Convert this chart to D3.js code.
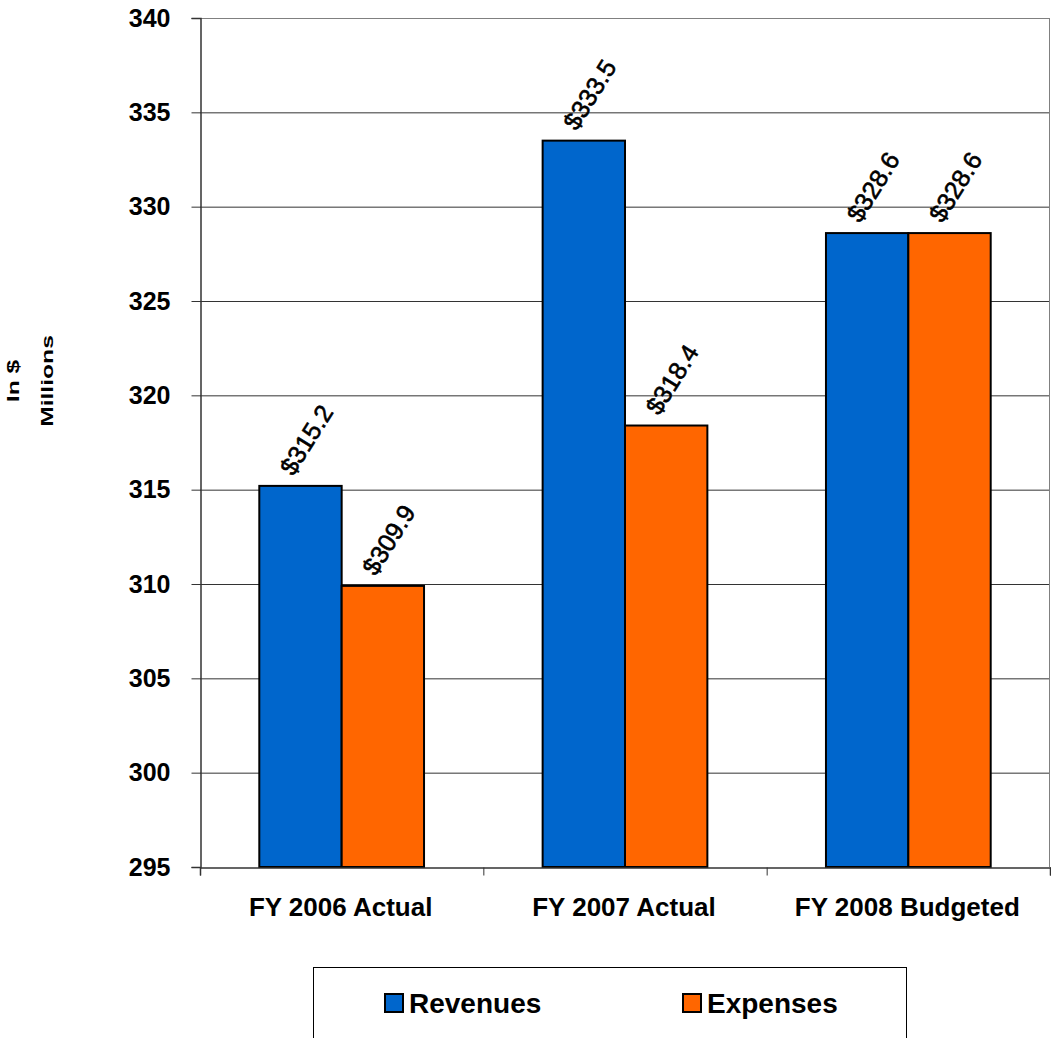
<!DOCTYPE html>
<html>
<head>
<meta charset="utf-8">
<script src="https://cdn.jsdelivr.net/npm/d3@7"></script>
<style>
  body { margin: 0; background: #fff; }
  text { font-family: "Liberation Sans", Arial, sans-serif; }
</style>
</head>
<body>
<svg id="chart"></svg>
<script>
const categories = ["FY 2006 Actual", "FY 2007 Actual", "FY 2008 Budgeted"];
const seriesNames = ["Revenues", "Expenses"];
const revenues = [315.2, 333.5, 328.6];
const expenses = [309.9, 318.4, 328.6];
const yTicks = [295, 300, 305, 310, 315, 320, 325, 330, 335, 340];

const colors = { Revenues: "#0066CC", Expenses: "#FF6600" };
const width = 1051;
const height = 1038;
const plot = { left: 200, right: 1050, top: 18, bottom: 867 };

const svg = d3.select("#chart").attr("width", width).attr("height", height);

const rows = categories.map((c, i) => ({
  category: c,
  Revenues: revenues[i],
  Expenses: expenses[i],
}));

const x0 = d3.scaleBand().domain(categories).range([plot.left, plot.right]);
const x1 = d3
  .scaleBand()
  .domain(seriesNames)
  .range([0, x0.bandwidth()])
  .paddingInner(0)
  .paddingOuter(0.72);
const y = d3.scaleLinear().domain([295, 340]).range([plot.bottom, plot.top]);

// gridlines
svg
  .append("g")
  .selectAll("line")
  .data(yTicks.filter((d) => d > 295))
  .join("line")
  .attr("x1", plot.left)
  .attr("x2", plot.right)
  .attr("y1", (d) => y(d) + 0.5)
  .attr("y2", (d) => y(d) + 0.5)
  .attr("stroke", (d) => (d === 340 ? "#808080" : "#333"))
  .attr("stroke-width", 1);

// right frame
svg
  .append("line")
  .attr("x1", plot.right - 0.5)
  .attr("x2", plot.right - 0.5)
  .attr("y1", plot.top)
  .attr("y2", plot.bottom)
  .attr("stroke", "#808080");

// bars
const groups = svg
  .append("g")
  .selectAll("g")
  .data(rows)
  .join("g")
  .attr("transform", (d) => `translate(${x0(d.category)},0)`);

groups
  .selectAll("rect")
  .data((d) => seriesNames.map((k) => ({ key: k, value: d[k] })))
  .join("rect")
  .attr("x", (d) => x1(d.key))
  .attr("y", (d) => y(d.value))
  .attr("width", x1.bandwidth())
  .attr("height", (d) => y(295) - y(d.value))
  .attr("fill", (d) => colors[d.key])
  .attr("stroke", "#000")
  .attr("stroke-width", 2);

groups
  .selectAll("text")
  .data((d) => seriesNames.map((k) => ({ key: k, value: d[k] })))
  .join("text")
  .attr(
    "transform",
    (d) =>
      `translate(${x1(d.key) + x1.bandwidth() / 2 - 7},${y(d.value) - 9}) rotate(-58)`
  )
  .attr("font-size", 25)
  .attr("fill", "#000")
  .attr("stroke", "#000")
  .attr("stroke-width", 0.6)
  .text((d) => "$" + d.value.toFixed(1));

// axes
const yAxis = d3.axisLeft(y).tickValues(yTicks).tickSize(9).tickPadding(21);
svg
  .append("g")
  .attr("transform", `translate(${plot.left + 0.5},0)`)
  .call(yAxis)
  .call((g) => g.selectAll("line").attr("stroke", "#333"))
  .call((g) => g.select(".domain").attr("stroke", "#333").attr("stroke-width", 1.5))
  .call((g) =>
    g
      .selectAll("text")
      .attr("font-size", 25)
      .attr("font-weight", "bold")
      .attr("font-family", "Liberation Sans, Arial, sans-serif")
      .attr("fill", "#000")
  );

const xTickScale = d3
  .scaleLinear()
  .domain([0, 3])
  .range([plot.left, plot.right]);
svg
  .append("g")
  .attr("transform", `translate(0,${plot.bottom + 0.5})`)
  .call(d3.axisBottom(xTickScale).ticks(3).tickSize(8).tickFormat(""))
  .call((g) => g.select(".domain").attr("stroke", "#333").attr("stroke-width", 1.5))
  .call((g) => g.selectAll("line").attr("stroke", "#333"));

svg
  .append("g")
  .selectAll("text")
  .data(categories)
  .join("text")
  .attr("x", (d) => x0(d) + x0.bandwidth() / 2 - 1)
  .attr("y", 916)
  .attr("text-anchor", "middle")
  .attr("font-size", 26)
  .attr("font-weight", "bold")
  .text((d) => d);

// y title
const yTitle = svg
  .append("text")
  .attr("transform", "translate(19,381) rotate(-90) scale(1.45,1)")
  .attr("text-anchor", "middle")
  .attr("font-size", 17)
  .attr("font-weight", "bold");
yTitle.append("tspan").attr("x", 0).attr("dy", 0).text("In $");
yTitle.append("tspan").attr("x", 0).attr("dy", 34).text("Millions");

// legend
const legend = svg.append("g");
legend
  .append("rect")
  .attr("x", 313.5)
  .attr("y", 967.5)
  .attr("width", 593)
  .attr("height", 100)
  .attr("fill", "#fff")
  .attr("stroke", "#000");

const legendX = [384, 682];
const items = legend
  .selectAll("g")
  .data(seriesNames)
  .join("g")
  .attr("transform", (d, i) => `translate(${legendX[i]},993)`);
items
  .append("rect")
  .attr("x", 1)
  .attr("y", 1)
  .attr("width", 18)
  .attr("height", 18)
  .attr("fill", (d) => colors[d])
  .attr("stroke", "#000")
  .attr("stroke-width", 2);
items
  .append("text")
  .attr("x", 25)
  .attr("y", 20)
  .attr("font-size", 28)
  .attr("font-weight", "bold")
  .text((d) => d);
</script>
</body>
</html>
